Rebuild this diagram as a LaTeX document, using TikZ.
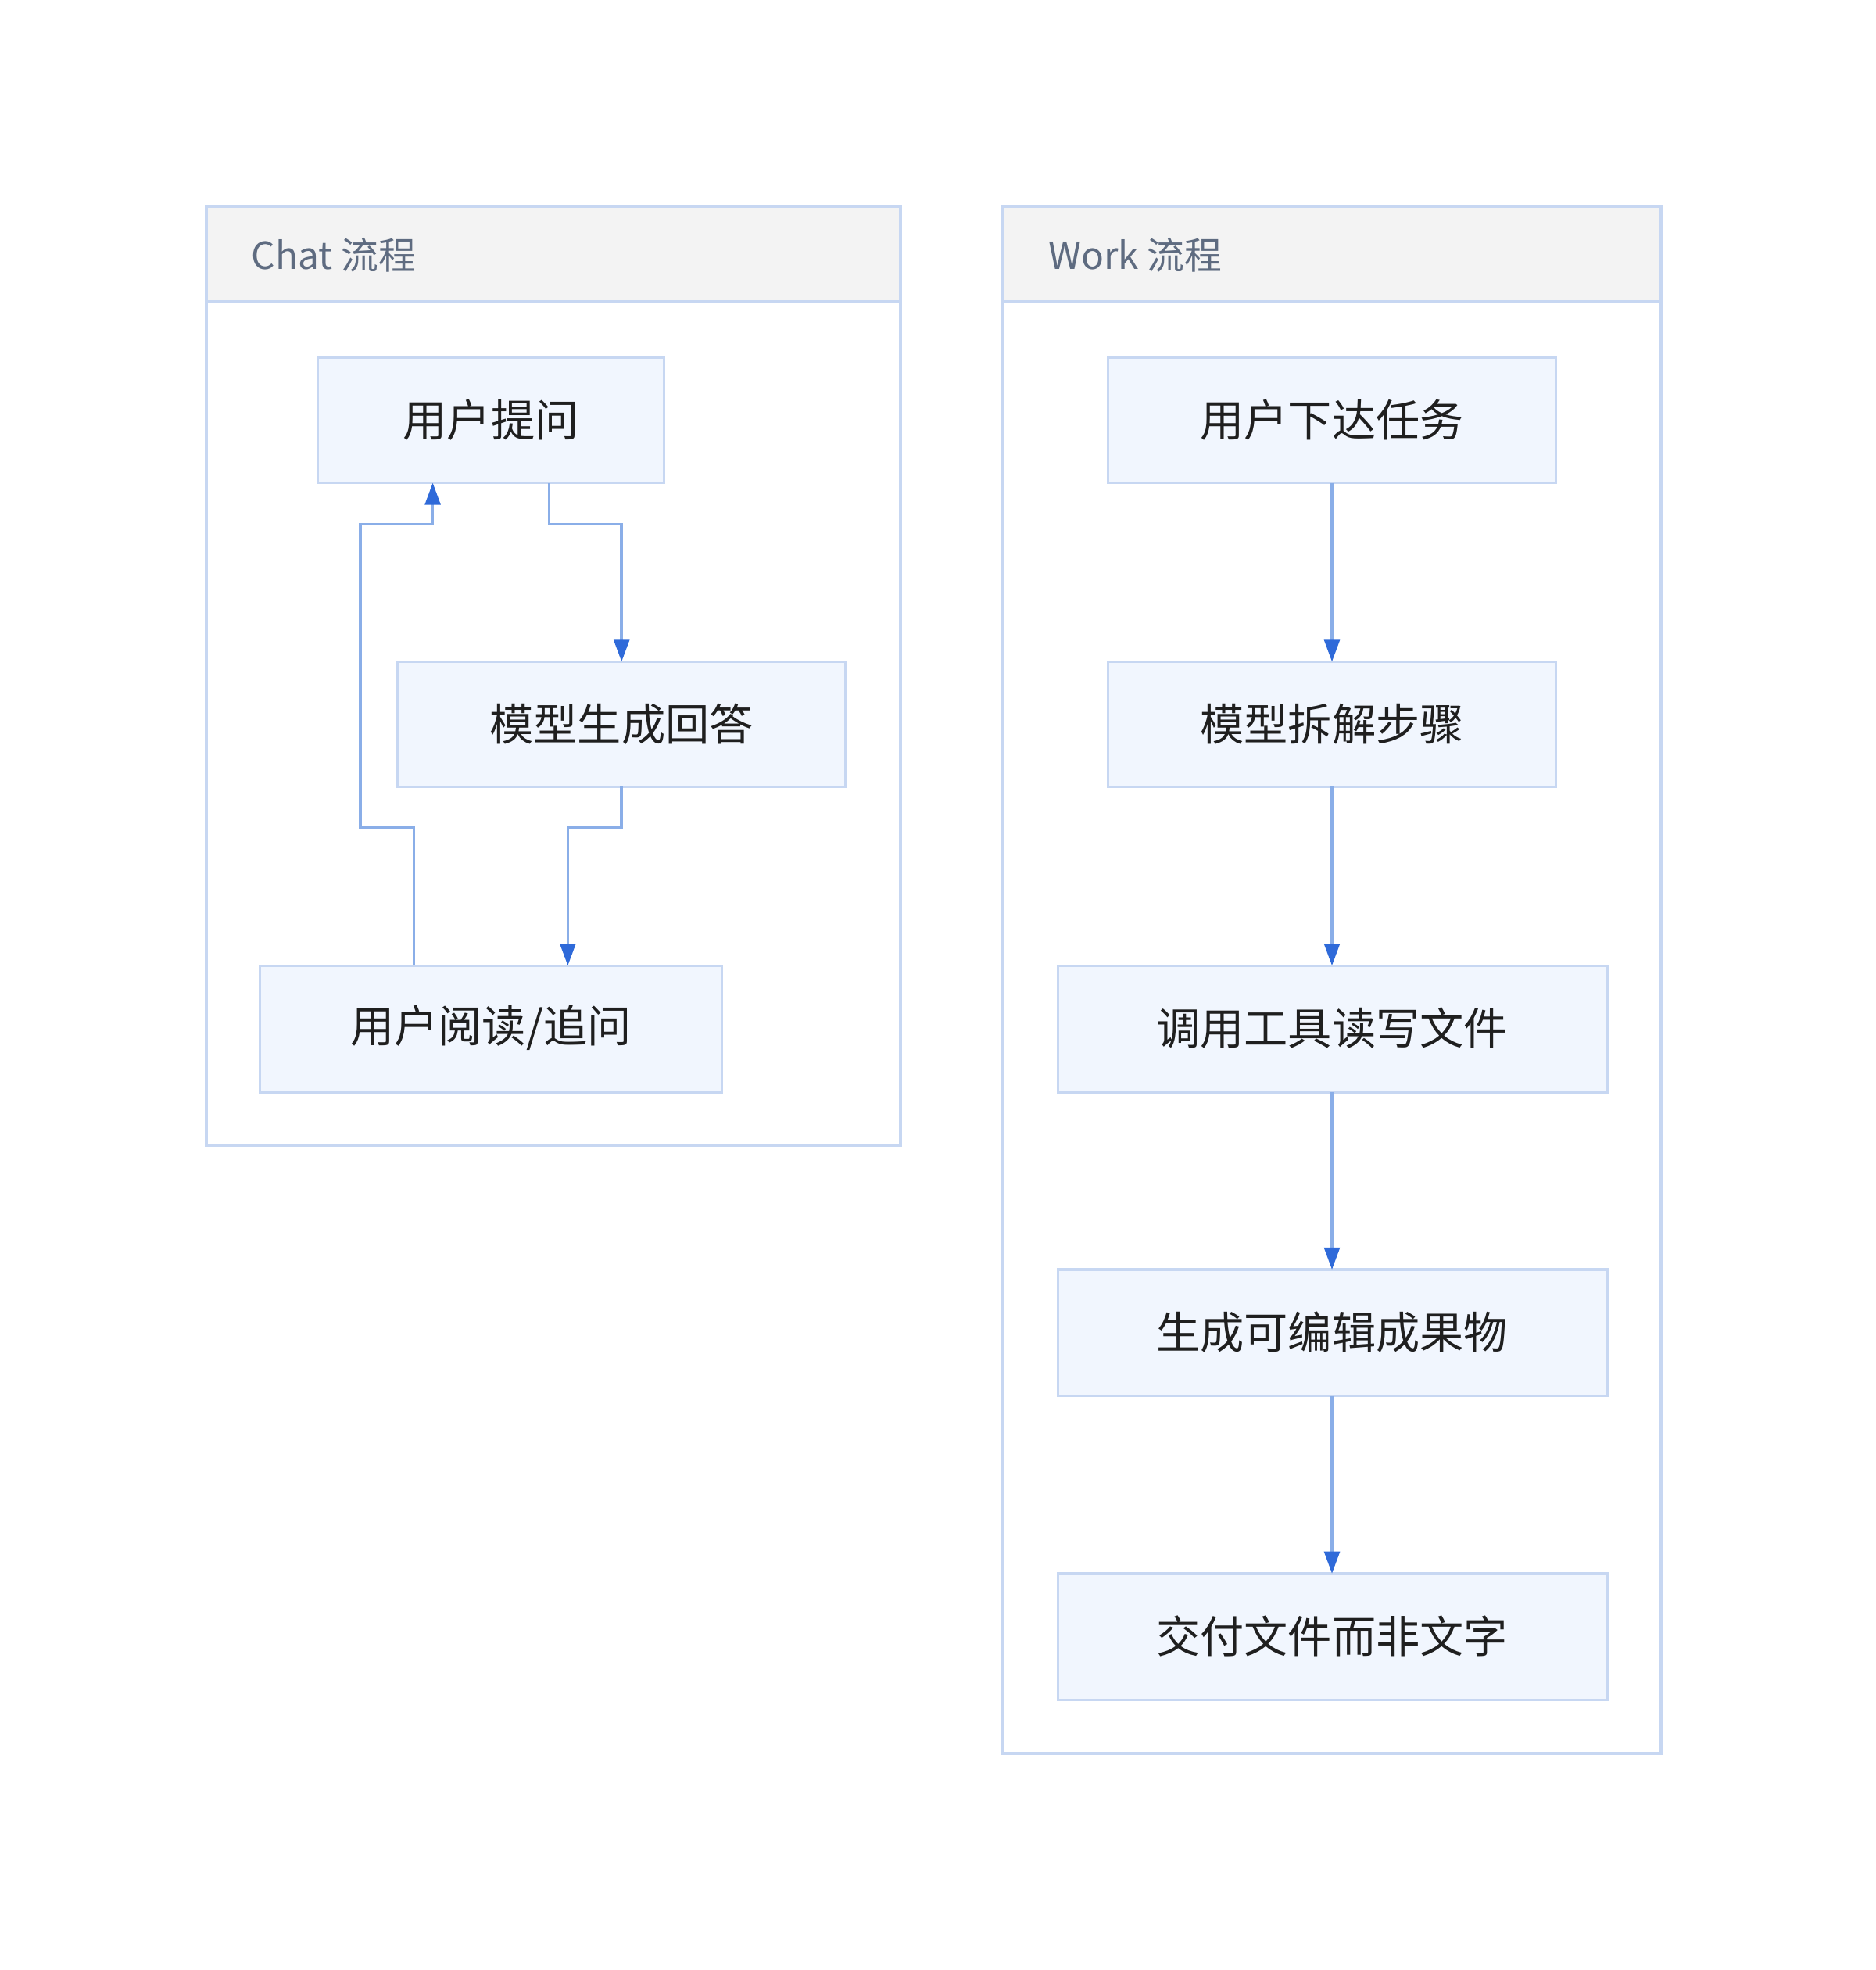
\documentclass[tikz,border=0pt]{standalone}
\usepackage{fontspec}
\setmainfont{Noto Sans CJK SC}
\usetikzlibrary{arrows.meta}
\definecolor{nfill}{HTML}{F1F6FE}
\definecolor{nbord}{HTML}{C7D7F2}
\definecolor{lc}{HTML}{8AAEE8}
\definecolor{ac}{HTML}{2F6AD9}
\definecolor{hfill}{HTML}{F3F3F3}
\definecolor{htext}{HTML}{5E6B80}
\definecolor{ttext}{HTML}{1F1F1F}
\begin{document}
\begin{tikzpicture}[x=0.02cm,y=-0.02cm,
  box/.style={draw=nbord,fill=nfill,line width=1.2pt},
  lbl/.style={font=\fontsize{20}{24}\selectfont,text=ttext},
  hd/.style={font=\fontsize{17}{20}\selectfont,text=htext,anchor=west},
  edge/.style={draw=lc,line width=1.3pt,-{Triangle[color=ac,fill=ac,length=10pt,width=7pt]}}]
\useasboundingbox (0,0) rectangle (1500,1575);
% frames
\draw[nbord,line width=1.3pt,fill=white] (165,165) rectangle (720,916);
\draw[nbord,line width=1.3pt,fill=hfill] (165,165) rectangle (720,241);
\node[hd] (hc) at (195,204) {Chat 流程};
\draw[nbord,line width=1.3pt,fill=white] (802,165) rectangle (1328,1402);
\draw[nbord,line width=1.3pt,fill=hfill] (802,165) rectangle (1328,241);
\node[hd] (hw) at (832,204) {Work 流程};
% chat nodes
\draw[box] (254,286) rectangle (531,386); \node[lbl] (c1) at (392.5,336) {用户提问};
\draw[box] (318,529) rectangle (676,629); \node[lbl] (c2) at (497,579) {模型生成回答};
\draw[box] (208,772) rectangle (577,873); \node[lbl] (c3) at (392.5,822) {用户阅读/追问};
\coordinate (c1b) at (439,386); \coordinate (c2t) at (497,529);
\coordinate (c2b) at (497,629); \coordinate (c3t) at (454,772);
\coordinate (c3s) at (331,772); \coordinate (c1t) at (346,386);
\draw[edge] (c1b) |- (497,419) -- (c2t);
\draw[edge] (c2b) -- (497,662) -| (c3t);
\draw[edge] (c3s) -- (331,662) -- (288,662) -- (288,419) -| (c1t);
% work nodes
\draw[box] (886,286) rectangle (1244,386); \node[lbl] (w1) at (1065,336) {用户下达任务};
\draw[box] (886,529) rectangle (1244,629); \node[lbl] (w2) at (1065,579) {模型拆解步骤};
\draw[box] (846,772) rectangle (1285,873); \node[lbl] (w3) at (1065,822) {调用工具读写文件};
\draw[box] (846,1015) rectangle (1285,1116); \node[lbl] (w4) at (1065,1065) {生成可编辑成果物};
\draw[box] (846,1258) rectangle (1285,1359); \node[lbl] (w5) at (1065,1308) {交付文件而非文字};
\foreach \a/\b/\c in {386/529/1,629/772/2,873/1015/3,1116/1258/4}
  \draw[edge] (1065,\a) -- (1065,\b);
\end{tikzpicture}
\end{document}
